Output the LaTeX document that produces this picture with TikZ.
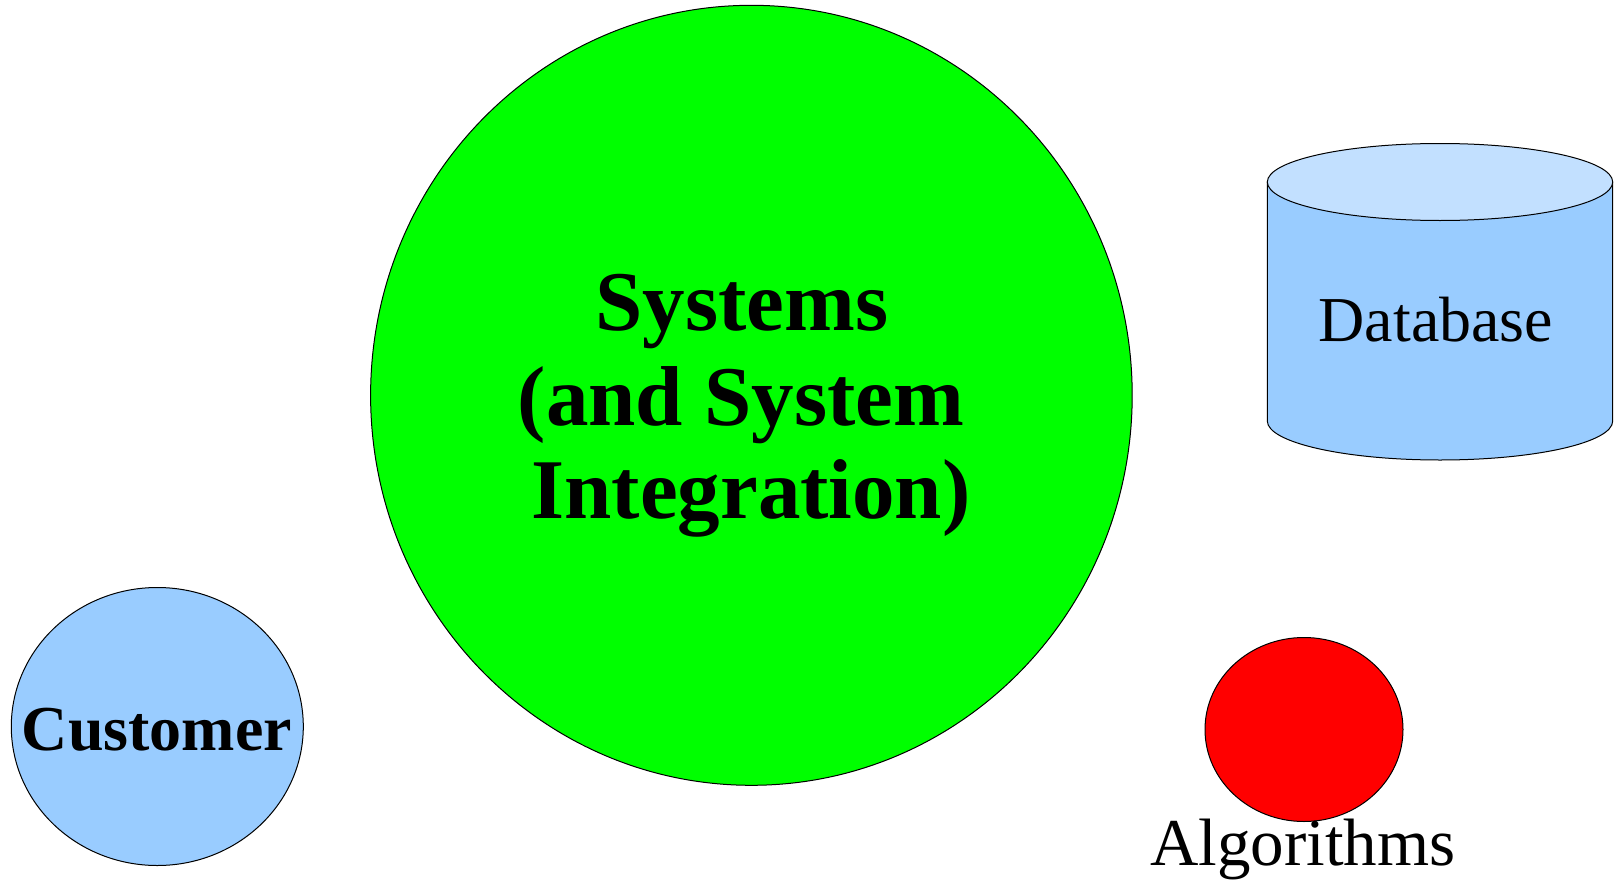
\documentclass[tikz,border=0pt]{standalone}
\usepackage{fontspec}
\setmainfont{Liberation Serif}
\usetikzlibrary{shapes.geometric}
\definecolor{sysgreen}{HTML}{00FF00}
\definecolor{custblue}{HTML}{99CCFF}
\definecolor{dbtop}{HTML}{C2E0FF}
\definecolor{algred}{HTML}{FF0000}
\tikzset{
  blob/.style={ellipse, draw=black, line width=1pt, inner sep=0pt},
  bigtxt/.style={font=\fontsize{85}{94}\selectfont\bfseries, anchor=base, inner sep=0pt},
  dbtxt/.style={font=\fontsize{64}{70}\selectfont, anchor=base, inner sep=0pt},
  algtxt/.style={font=\fontsize{67}{72}\selectfont, anchor=base, inner sep=0pt},
  custtxt/.style={font=\fontsize{64}{70}\selectfont\bfseries, anchor=base, inner sep=0pt},
  outl/.style={draw=black, line width=1pt}
}
\begin{document}
\begin{tikzpicture}[x=1pt,y=1pt]
\path[use as bounding box] (0,0) rectangle (1614,-883);
% Systems
\node[blob, fill=sysgreen, minimum width=761.6pt, minimum height=780pt] (sys) at (751.4,-395.3) {};
\node[bigtxt] (sys1) at (742,-330) {Systems};
\node[bigtxt] (sys2) at (741,-425) {(and System};
\node[bigtxt] (sys3) at (751,-518.3) {Integration)};
% Customer
\node[blob, fill=custblue, minimum width=292pt, minimum height=278pt] (cust) at (157.3,-726.5) {};
\node[custtxt] (custl) at (157,-750) {Customer};
% Algorithms
\node[blob, fill=algred, minimum width=198pt, minimum height=184pt] (alg) at (1304,-729.5) {};
\node[algtxt] (algl) at (1303,-865) {Algorithms};
% Database cylinder
\path[outl, fill=custblue] (1267.3,-182) -- (1267.3,-421) arc (180:360:172.7 and 39) -- (1612.7,-182) -- cycle;
\path[outl, fill=dbtop] (1440,-182) ellipse (172.7 and 38.5);
\node[dbtxt] (dbl) at (1436,-341.7) {Database};
\end{tikzpicture}
\end{document}
